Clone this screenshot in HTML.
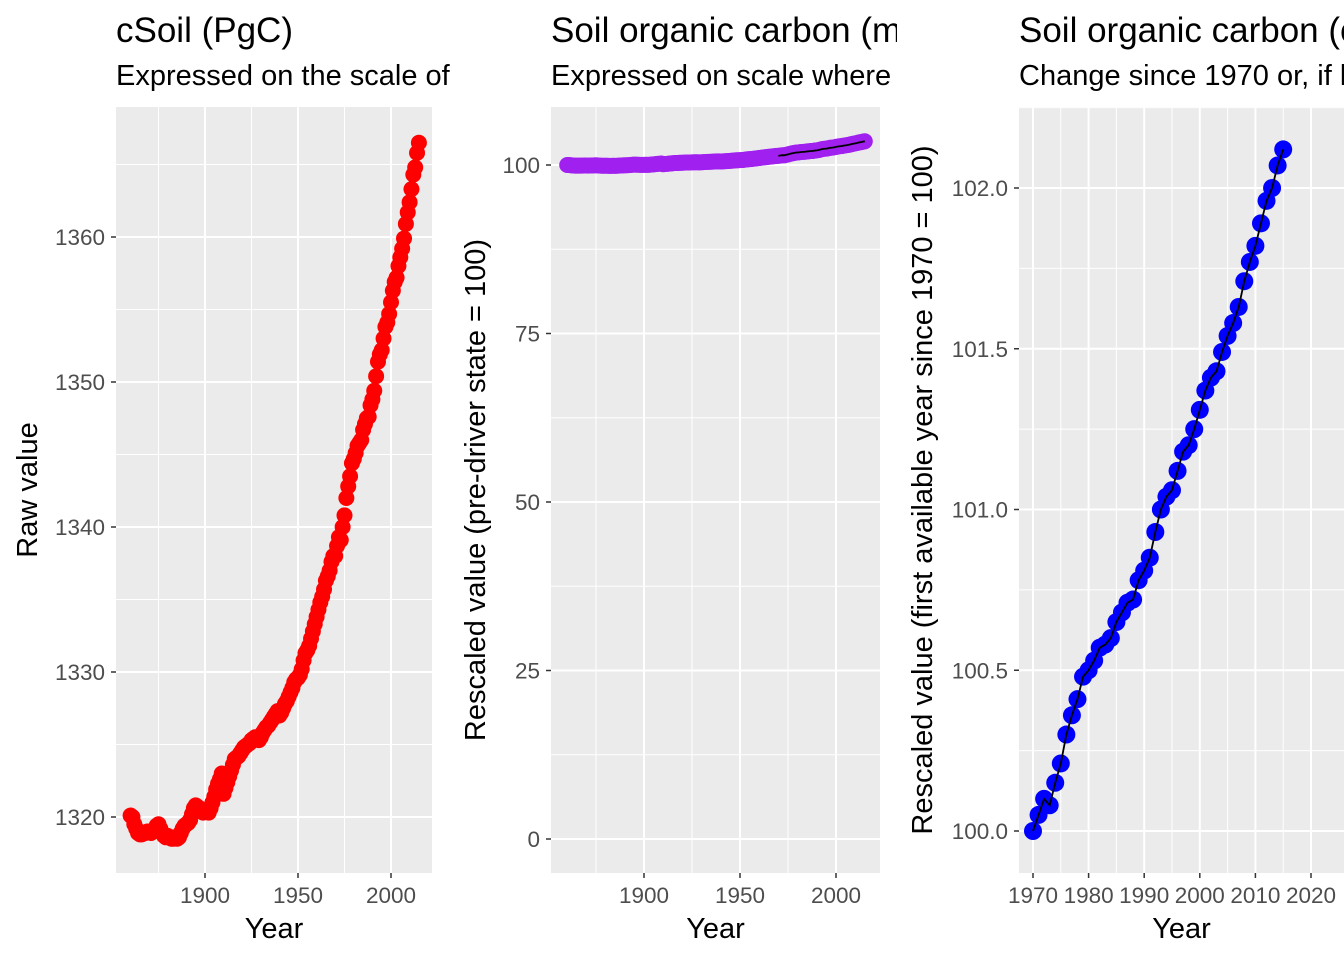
<!DOCTYPE html>
<html><head><meta charset="utf-8"><style>
body{margin:0;background:#fff;}
svg{display:block;font-family:"Liberation Sans",sans-serif;}
</style></head><body>
<svg id="chart" width="1344" height="960" xmlns="http://www.w3.org/2000/svg"></svg>
<script>
const years=[];for(let y=1860;y<=2015;y++)years.push(y);
const rawValues=[1320.1,1320.0,1319.5,1319.2,1318.9,1318.8,1318.8,1318.9,1318.9,1319.0,
1319.0,1318.9,1319.0,1319.1,1319.4,1319.5,1319.2,1318.9,1318.7,1318.6,
1318.7,1318.6,1318.5,1318.5,1318.6,1318.5,1318.6,1318.9,1319.2,1319.4,
1319.5,1319.6,1319.8,1320.2,1320.6,1320.8,1320.7,1320.6,1320.4,1320.3,
1320.4,1320.5,1320.3,1320.6,1321.0,1321.4,1321.9,1322.3,1322.6,1323.0,
1321.6,1322.0,1322.4,1322.8,1323.2,1323.6,1324.0,1324.1,1324.2,1324.4,
1324.6,1324.8,1324.9,1325.0,1325.1,1325.3,1325.4,1325.5,1325.4,1325.3,
1325.5,1325.8,1326.0,1326.2,1326.3,1326.5,1326.7,1326.9,1327.1,1327.3,
1327.0,1327.2,1327.5,1327.8,1328.0,1328.3,1328.6,1328.9,1329.3,1329.5,
1329.6,1329.8,1330.2,1330.8,1331.3,1331.5,1331.8,1332.3,1332.8,1333.3,
1333.8,1334.3,1334.8,1335.2,1335.7,1336.3,1336.6,1337.0,1337.6,1338.0,
1338.0,1338.7,1339.3,1339.1,1340.0,1340.8,1342.0,1342.8,1343.5,1344.4,
1344.7,1345.1,1345.6,1345.8,1346.0,1346.7,1347.1,1347.5,1347.6,1348.4,
1348.8,1349.4,1350.4,1351.4,1351.9,1352.2,1353.0,1353.8,1354.1,1354.7,
1355.5,1356.3,1356.9,1357.2,1358.0,1358.6,1359.2,1359.9,1360.9,1361.7,
1362.4,1363.3,1364.3,1364.8,1365.8,1366.5];
const recentYears=[];for(let y=1970;y<=2015;y++)recentYears.push(y);
const recentValues=[100.0,100.05,100.1,100.08,100.15,100.21,100.3,100.36,100.41,100.48,
100.5,100.53,100.57,100.58,100.6,100.65,100.68,100.71,100.72,100.78,
100.81,100.85,100.93,101.0,101.04,101.06,101.12,101.18,101.2,101.25,
101.31,101.37,101.41,101.43,101.49,101.54,101.58,101.63,101.71,101.77,
101.82,101.89,101.96,102.0,102.07,102.12];
const p1YTicks=[1320,1330,1340,1350,1360];
const p2YTicks=[0,25,50,75,100];
const p3YTicks=[100.0,100.5,101.0,101.5,102.0];
const p12XTicks=[1900,1950,2000];
const p3XTicks=[1970,1980,1990,2000,2010,2020];

const NS="http://www.w3.org/2000/svg";
const svg=document.getElementById('chart');
function el(tag,attrs,parent){const e=document.createElementNS(NS,tag);for(const k in attrs)e.setAttribute(k,attrs[k]);(parent||svg).appendChild(e);return e;}

function panel(o){
  const g=el('g',{});
  
  
  const cid='clip'+o.name;
  const cp=el('clipPath',{id:cid},g);el('rect',{x:o.px0,y:0,width:o.px1-o.px0,height:960},cp);
  const t=el('text',{x:o.l,y:42,'font-size':35,fill:'#000','clip-path':`url(#${cid})`},g);t.textContent=o.title;
  
  const s=el('text',{x:o.l,y:85,'font-size':29,fill:'#000','clip-path':`url(#${cid})`},g);s.textContent=o.sub;
  
  const X=v=>o.xa+(v-o.xv)*o.xs, Y=v=>o.ya-(v-o.yv)*o.ys;
  const pc='pc'+o.name;
  const cp2=el('clipPath',{id:pc},g);el('rect',{x:o.l,y:o.t,width:o.r-o.l,height:o.b-o.t},cp2);
  el('rect',{x:o.l,y:o.t,width:o.r-o.l,height:o.b-o.t,fill:'#EBEBEB'},g);
  const grid=el('g',{'clip-path':`url(#${pc})`},g);
  o.xMinor.forEach(v=>el('line',{x1:X(v),x2:X(v),y1:o.t,y2:o.b,stroke:'#fff','stroke-width':1},grid));
  o.yMinor.forEach(v=>el('line',{x1:o.l,x2:o.r,y1:Y(v),y2:Y(v),stroke:'#fff','stroke-width':1},grid));
  o.xt.forEach(v=>{el('line',{x1:X(v),x2:X(v),y1:o.t,y2:o.b,stroke:'#fff','stroke-width':2},grid);
    el('line',{x1:X(v),x2:X(v),y1:o.b,y2:o.b+5,stroke:'#333','stroke-width':1.5},g);
    const tl=el('text',{x:X(v),y:o.b+30,'font-size':22.5,fill:'#4d4d4d','text-anchor':'middle'},g);tl.textContent=v;
    });
  o.yt.forEach(v=>{el('line',{x1:o.l,x2:o.r,y1:Y(v),y2:Y(v),stroke:'#fff','stroke-width':2},grid);
    el('line',{x1:o.l-5,x2:o.l,y1:Y(v),y2:Y(v),stroke:'#333','stroke-width':1.5},g);
    const tl=el('text',{x:o.l-11,y:Y(v)+8,'font-size':22.5,fill:'#4d4d4d','text-anchor':'end'},g);tl.textContent=o.fmt(v);
    });
  const marks=el('g',{'clip-path':`url(#${pc})`},g);
  o.xs_.forEach((x,i)=>{const c=el('circle',{cx:X(x),cy:Y(o.ys_[i]),r:o.rad,fill:o.col},marks);
    });
  if(o.lx){const p=el('polyline',{points:o.lx.map((x,i)=>X(x)+','+Y(o.ly[i])).join(' '),fill:'none',stroke:'#000','stroke-width':1.8},marks);
    }
  const xt=el('text',{x:(o.l+Math.min(o.r,o.px1))/2,y:938,'font-size':29,fill:'#000','text-anchor':'middle'},g);xt.textContent='Year';
  
  const cy=(o.t+o.b)/2;
  const yt=el('text',{x:o.ytx,y:cy,'font-size':29,fill:'#000','text-anchor':'middle',transform:`rotate(-90 ${o.ytx} ${cy})`},g);yt.textContent=o.ytitle;
  
}
const base=rawValues[0];
const purple=rawValues.map(v=>v/base*100);
panel({name:'panel-raw',px0:0,px1:450,l:116,r:432,t:107,b:873,title:'cSoil (PgC)',sub:'Expressed on the scale of the original data',
 xa:205,xv:1900,xs:1.86,ya:817,yv:1320,ys:14.5,xt:p12XTicks,yt:p1YTicks,xMinor:[1875,1925,1975],yMinor:[1325,1335,1345,1355,1365],
 fmt:v=>v,xs_:years,ys_:rawValues,rad:8,col:'#FF0000',ytitle:'Raw value',ytx:37});
panel({name:'panel-predriver',px0:450,px1:897,l:551,r:880,t:107,b:873,title:'Soil organic carbon (model)',sub:'Expressed on scale where pre-driver state = 100',
 xa:644,xv:1900,xs:1.92,ya:839,yv:0,ys:6.74,xt:p12XTicks,yt:p2YTicks,xMinor:[1875,1925,1975],yMinor:[12.5,37.5,62.5,87.5],
 fmt:v=>v,xs_:years,ys_:purple,rad:8,col:'#A020F0',lx:years.filter(y=>y>=1970),ly:purple.filter((v,i)=>years[i]>=1970),ytitle:'Rescaled value (pre-driver state = 100)',ytx:485});
panel({name:'panel-since1970',px0:897,px1:1344,l:1019,r:1344,t:107,b:873,title:'Soil organic carbon (change)',sub:'Change since 1970 or, if later, first available year',
 xa:1033,xv:1970,xs:5.56,ya:831,yv:100,ys:321.5,xt:p3XTicks,yt:p3YTicks,xMinor:[1975,1985,1995,2005,2015],yMinor:[100.25,100.75,101.25,101.75,102.25],
 fmt:v=>v.toFixed(1),xs_:recentYears,ys_:recentValues,rad:9,col:'#0000FF',lx:recentYears,ly:recentValues,ytitle:'Rescaled value (first available year since 1970 = 100)',ytx:932});
</script>
</body></html>
